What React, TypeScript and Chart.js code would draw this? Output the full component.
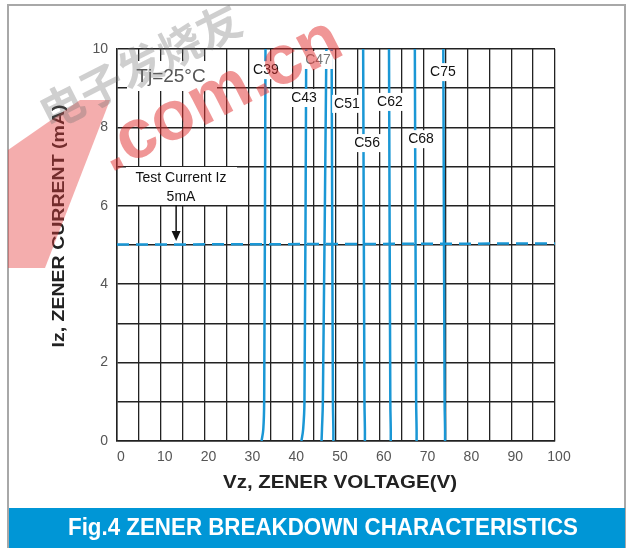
import React, { useEffect, useRef } from 'react';
import { Chart, registerables } from 'chart.js';
Chart.register(...registerables);

// ---- data ----
const seriesNames = ['C39', 'C43', 'C47', 'C51', 'C56', 'C62', 'C68', 'C75'];
const currentLevels = [0, 0.3, 1, 10]; // mA
const voltsC39 = [33.0, 33.4, 33.6, 33.9];
const voltsC43 = [42.1, 42.5, 42.8, 43.2];
const voltsC47 = [46.7, 46.8, 47.0, 47.8];
const voltsC51 = [49.4, 49.4, 49.3, 49.0];
const voltsC56 = [56.6, 56.6, 56.5, 56.2];
const voltsC62 = [62.5, 62.5, 62.4, 62.1];
const voltsC68 = [68.4, 68.4, 68.3, 68.0];
const voltsC75 = [74.9, 74.9, 74.8, 74.5];
const seriesVolts = [voltsC39, voltsC43, voltsC47, voltsC51, voltsC56, voltsC62, voltsC68, voltsC75];

const testCurrentV = [0, 100];
const testCurrentI = [5.01, 5.04];

// label anchors (data coords) for the series names
const labelV = [34.0, 42.7, 45.9, 52.5, 57.1, 62.3, 69.4, 74.4];
const labelI = [9.46, 8.75, 9.72, 8.6, 7.6, 8.65, 7.7, 9.41];

const xMin = 0, xMax = 100, xStep = 5;
const yMin = 0, yMax = 10, yStep = 1;

const BLUE = '#1a97d5';

function fitText(ctx: CanvasRenderingContext2D, text: string, cx: number, cy: number, width: number) {
  const w = ctx.measureText(text).width;
  ctx.save();
  ctx.translate(cx, cy);
  ctx.scale(width / w, 1);
  ctx.textAlign = 'center';
  ctx.textBaseline = 'middle';
  ctx.fillText(text, 0, 0);
  ctx.restore();
}

const decor = {
  id: 'decor',
  beforeDraw(chart: any) {
    const ctx: CanvasRenderingContext2D = chart.ctx;
    ctx.save();
    ctx.fillStyle = '#ffffff';
    ctx.fillRect(0, 0, chart.width, chart.height);
    // frame
    ctx.strokeStyle = '#a8a8a8';
    ctx.lineWidth = 2;
    ctx.strokeRect(8, 5, 617, 560);
    // banner
    ctx.fillStyle = '#0096d6';
    ctx.fillRect(9, 508, 616, 40);
    ctx.fillStyle = '#ffffff';
    ctx.font = 'bold 24px "Liberation Sans Narrow", "Liberation Sans", Arial';
    fitText(ctx, 'Fig.4 ZENER BREAKDOWN CHARACTERISTICS', 323, 528, 510);
    ctx.restore();
  },
  afterDatasetsDraw(chart: any) {
    const ctx: CanvasRenderingContext2D = chart.ctx;
    const xs = chart.scales.x, ys = chart.scales.y;
    ctx.save();
    // series labels with white boxes
    ctx.font = '14px "Liberation Sans", Arial';
    ctx.textAlign = 'center';
    ctx.textBaseline = 'middle';
    seriesNames.forEach((n, i) => {
      const px = xs.getPixelForValue(labelV[i]);
      const py = ys.getPixelForValue(labelI[i]);
      const w = ctx.measureText(n).width;
      ctx.fillStyle = '#ffffff';
      ctx.fillRect(px - w / 2 - 2, py - 9, w + 4, 18);
      ctx.fillStyle = n === 'C47' ? '#777777' : '#111111';
      ctx.fillText(n, px, py);
    });
    // Tj box
    ctx.fillStyle = '#ffffff';
    ctx.fillRect(127, 61, 90, 30);
    ctx.fillStyle = '#555555';
    ctx.font = '19px "Liberation Sans", Arial';
    ctx.fillText('Tj=25°C', 171, 77);
    // test current box
    ctx.fillStyle = '#ffffff';
    ctx.fillRect(126, 167, 111, 38);
    ctx.fillStyle = '#111111';
    ctx.font = '14px "Liberation Sans", Arial';
    ctx.fillText('Test Current Iz', 181, 178);
    ctx.fillText('5mA', 181, 197);
    // arrow
    const ax = xs.getPixelForValue(13.5);
    const ay = ys.getPixelForValue(5.1);
    ctx.strokeStyle = '#111111';
    ctx.lineWidth = 1.5;
    ctx.beginPath();
    ctx.moveTo(ax, 205);
    ctx.lineTo(ax, ay - 8);
    ctx.stroke();
    ctx.fillStyle = '#111111';
    ctx.beginPath();
    ctx.moveTo(ax - 4.5, ay - 10);
    ctx.lineTo(ax + 4.5, ay - 10);
    ctx.lineTo(ax, ay);
    ctx.closePath();
    ctx.fill();
    ctx.restore();
  },
  afterDraw(chart: any) {
    const ctx: CanvasRenderingContext2D = chart.ctx;
    ctx.save();
    // axis titles
    ctx.fillStyle = '#222222';
    ctx.font = 'bold 19px "Liberation Sans", Arial';
    fitText(ctx, 'Vz, ZENER VOLTAGE(V)', 340, 483, 234);
    ctx.save();
    ctx.translate(59, 226);
    ctx.rotate(-Math.PI / 2);
    ctx.font = 'bold 17px "Liberation Sans", Arial';
    fitText(ctx, 'Iz, ZENER CURRENT (mA)', 0, 0, 243);
    ctx.restore();
    // watermark
    ctx.fillStyle = 'rgba(228,60,60,0.42)';
    ctx.beginPath();
    ctx.moveTo(8, 150);
    ctx.lineTo(80, 100);
    ctx.lineTo(110, 100);
    ctx.lineTo(45, 268);
    ctx.lineTo(8, 268);
    ctx.closePath();
    ctx.fill();
    ctx.save();
    ctx.translate(220, 96);
    ctx.rotate(-0.47);
    ctx.font = 'bold 70px "Liberation Sans", Arial';
    ctx.fillStyle = 'rgba(225,45,45,0.5)';
    ctx.textAlign = 'center';
    ctx.textBaseline = 'middle';
    ctx.fillText('.com.cn', 0, 0);
    ctx.restore();
    ctx.save();
    ctx.translate(140, 66);
    ctx.rotate(-0.47);
    ctx.font = 'bold 44px "Noto Sans CJK SC"';
    ctx.fillStyle = 'rgba(110,110,110,0.33)';
    ctx.textAlign = 'center';
    ctx.textBaseline = 'middle';
    ctx.fillText('电子发烧友', 0, 0);
    ctx.restore();
    ctx.restore();
  },
};

export default function App() {
  const ref = useRef<HTMLCanvasElement>(null);
  useEffect(() => {
    if (!ref.current) return;
    const datasets: any[] = seriesNames.map((n, i) => ({
      label: n,
      data: seriesVolts[i].map((v, k) => ({ x: v, y: currentLevels[k] })),
      borderColor: BLUE,
      borderWidth: 2.5,
      pointRadius: 0,
      tension: 0.4,
      fill: false,
    }));
    datasets.push({
      label: 'Test Current',
      data: testCurrentV.map((v, k) => ({ x: v, y: testCurrentI[k] })),
      borderColor: BLUE,
      borderWidth: 2.5,
      borderDash: [12, 7],
      pointRadius: 0,
      fill: false,
    });
    const chart = new Chart(ref.current, {
      type: 'line',
      data: { datasets },
      options: {
        animation: false,
        responsive: false,
        layout: { padding: { top: 49, right: 74, left: 0, bottom: 0 } },
        plugins: { legend: { display: false }, tooltip: { enabled: false } },
        scales: {
          x: {
            type: 'linear',
            min: xMin,
            max: xMax,
            afterFit: (s: any) => { s.height = 107; },
            grid: { color: '#222222', lineWidth: 1.3, drawTicks: false },
            border: { color: '#222222', width: 1.5 },
            ticks: {
              stepSize: xStep,
              autoSkip: false,
              maxRotation: 0,
              padding: 8,
              labelOffset: 4,
              color: '#555555',
              font: { family: '"Liberation Sans", Arial', size: 14 },
              callback: (v: any) => (Number(v) % 10 === 0 ? String(v) : ''),
            },
          },
          y: {
            type: 'linear',
            min: yMin,
            max: yMax,
            afterFit: (s: any) => { s.width = 117; },
            grid: { color: '#222222', lineWidth: 1.5, drawTicks: false },
            border: { color: '#222222', width: 1.5 },
            ticks: {
              stepSize: yStep,
              autoSkip: false,
              padding: 9,
              color: '#555555',
              font: { family: '"Liberation Sans", Arial', size: 14 },
              callback: (v: any) => (Number(v) % 2 === 0 ? String(v) : ''),
            },
          },
        },
      },
      plugins: [decor],
    });
    return () => chart.destroy();
  }, []);
  return (
    <div style={{ position: 'fixed', left: 0, top: 0, width: 629, height: 548 }}>
      <canvas ref={ref} width={629} height={548} />
    </div>
  );
}
